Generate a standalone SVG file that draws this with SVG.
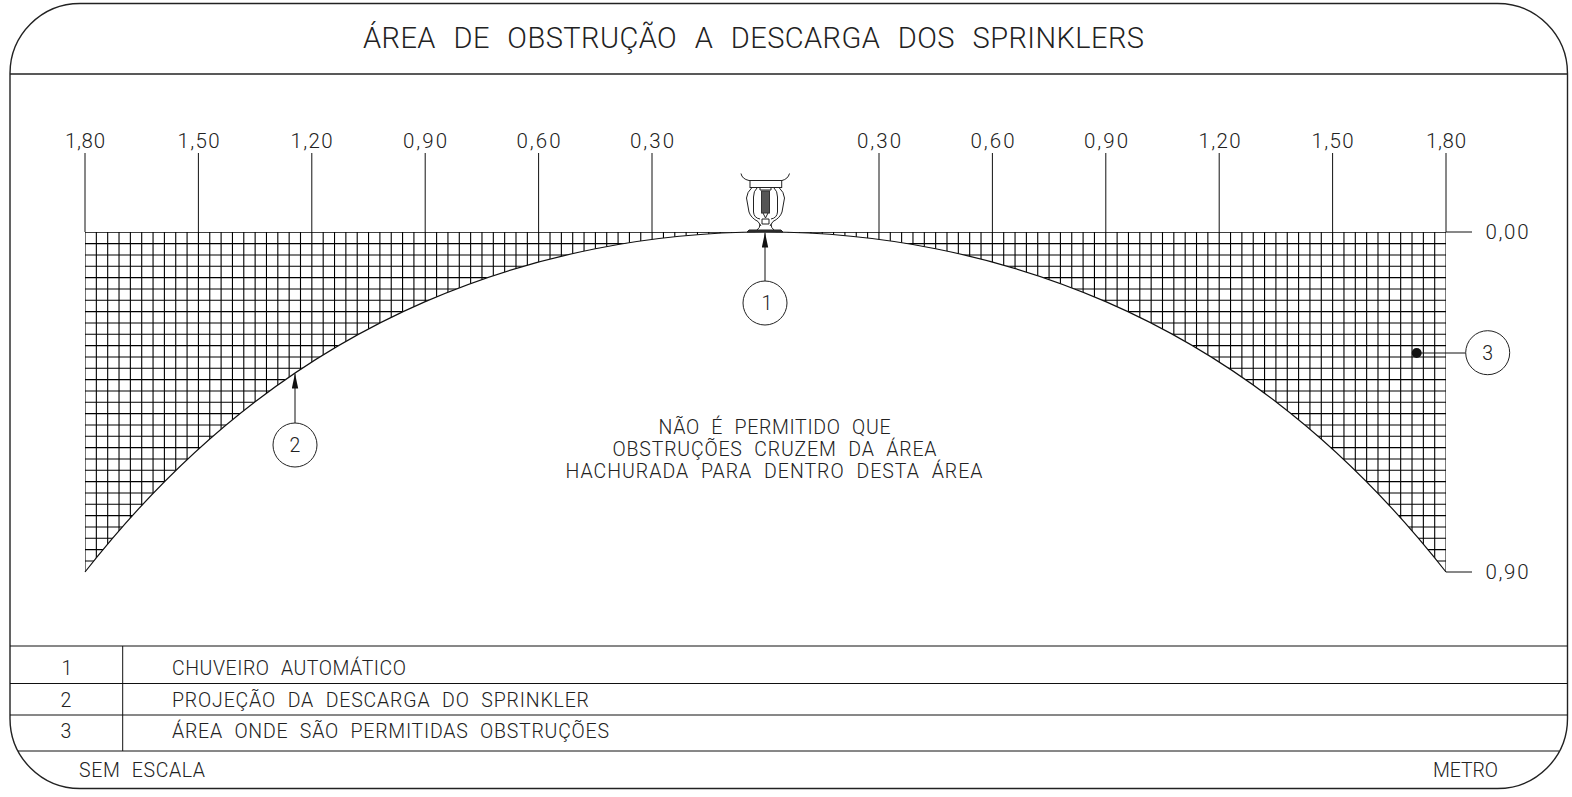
<svg xmlns="http://www.w3.org/2000/svg" width="1572" height="797" viewBox="0 0 1572 797">
<style>
text{font-family:"Roboto","Liberation Sans",sans-serif;font-weight:300;fill:#222}
.t{font-size:19.5px;word-spacing:6px}
.d{font-size:20.5px;text-anchor:middle}
.c{font-size:19.5px;text-anchor:middle}
.l{fill:none;stroke:#111;stroke-width:1}
.f{fill:none;stroke:#222;stroke-width:1.4}
.h{fill:none;stroke:#000;stroke-width:1.1}
.n{fill:#fff;stroke:#222;stroke-width:1}
</style>
<defs>
<clipPath id="hc"><path d="M85 232H1446V572C1389.29 499.75 1332.58 445.08 1275.875 401.7C1219.16 358.32 1162.46 326.18 1105.75 301.6C1049.04 277.02 992.33 259.99 935.625 248.72C878.92 237.45 822.21 232 765.5 232C708.79 232 652.08 237.45 595.375 248.72C538.67 259.99 481.96 277.02 425.25 301.6C368.54 326.18 311.84 358.32 255.125 401.7C198.42 445.08 141.71 499.75 85 572Z"/></clipPath>
<marker id="ah" markerUnits="userSpaceOnUse" markerWidth="15" markerHeight="7" refX="15" refY="0" orient="auto" viewBox="0 -3.5 15 7"><path d="M15 0L0 -3.2V3.2Z" fill="#111"/></marker>
</defs>
<g id="frame">
<rect class="f" x="10" y="3.5" width="1557.5" height="785" rx="70" ry="70"/>
<path class="f" d="M10 74H1567.5"/>
<path class="l" d="M10 646H1567.5M10 683.5H1567.5M10 715H1567.5M18 751H1559M122.7 646V751"/>
</g>
<text id="title" x="363" y="47.5" font-size="29" word-spacing="10" textLength="781" lengthAdjust="spacing" style="word-spacing:10px">ÁREA DE OBSTRUÇÃO A DESCARGA DOS SPRINKLERS</text>
<g id="hatch" clip-path="url(#hc)">
<path class="h" d="M85 232V572m11.342-340v340m11.342-340v340m11.342-340v340m11.342-340v340m11.342-340v340m11.342-340v340m11.342-340v340m11.342-340v340m11.342-340v340m11.342-340v340
m11.342-340v340m11.342-340v340m11.342-340v340m11.342-340v340m11.342-340v340m11.342-340v340m11.342-340v340m11.342-340v340m11.342-340v340m11.342-340v340
m11.342-340v340m11.342-340v340m11.342-340v340m11.342-340v340m11.342-340v340m11.342-340v340m11.342-340v340m11.342-340v340m11.342-340v340m11.342-340v340
m11.342-340v340m11.342-340v340m11.342-340v340m11.342-340v340m11.342-340v340m11.342-340v340m11.342-340v340m11.342-340v340m11.342-340v340m11.342-340v340
m11.342-340v340m11.342-340v340m11.342-340v340m11.342-340v340m11.342-340v340m11.342-340v340m11.342-340v340m11.342-340v340m11.342-340v340m11.342-340v340
m11.342-340v340m11.342-340v340m11.342-340v340m11.342-340v340m11.342-340v340m11.342-340v340m11.342-340v340m11.342-340v340m11.342-340v340m11.342-340v340
m11.342-340v340m11.342-340v340m11.342-340v340m11.342-340v340m11.342-340v340m11.342-340v340m11.342-340v340m11.342-340v340m11.342-340v340m11.342-340v340
m11.342-340v340m11.342-340v340m11.342-340v340m11.342-340v340m11.342-340v340m11.342-340v340m11.342-340v340m11.342-340v340m11.342-340v340m11.342-340v340
m11.342-340v340m11.342-340v340m11.342-340v340m11.342-340v340m11.342-340v340m11.342-340v340m11.342-340v340m11.342-340v340m11.342-340v340m11.342-340v340
m11.342-340v340m11.342-340v340m11.342-340v340m11.342-340v340m11.342-340v340m11.342-340v340m11.342-340v340m11.342-340v340m11.342-340v340m11.342-340v340
m11.342-340v340m11.342-340v340m11.342-340v340m11.342-340v340m11.342-340v340m11.342-340v340m11.342-340v340m11.342-340v340m11.342-340v340m11.342-340v340
m11.342-340v340m11.342-340v340m11.342-340v340m11.342-340v340m11.342-340v340m11.342-340v340m11.342-340v340m11.342-340v340m11.342-340v340m11.342-340v340"/>
<path class="h" d="M85 232.3h1361m-1361 11.333h1361m-1361 11.333h1361m-1361 11.333h1361m-1361 11.333h1361m-1361 11.333h1361m-1361 11.333h1361m-1361 11.333h1361m-1361 11.333h1361m-1361 11.333h1361m-1361 11.333h1361
m-1361 11.333h1361m-1361 11.333h1361m-1361 11.333h1361m-1361 11.333h1361m-1361 11.333h1361m-1361 11.333h1361m-1361 11.333h1361m-1361 11.333h1361m-1361 11.333h1361m-1361 11.333h1361
m-1361 11.333h1361m-1361 11.333h1361m-1361 11.333h1361m-1361 11.333h1361m-1361 11.333h1361m-1361 11.333h1361m-1361 11.333h1361m-1361 11.333h1361m-1361 11.333h1361"/>
</g>
<g id="connectors">
<path fill="none" stroke="#111" stroke-width="1.2" d="M85 572C141.71 499.75 198.42 445.08 255.125 401.7C311.84 358.32 368.54 326.18 425.25 301.6C481.96 277.02 538.67 259.99 595.375 248.72C652.08 237.45 708.79 232 765.5 232C822.21 232 878.92 237.45 935.625 248.72C992.33 259.99 1049.04 277.02 1105.75 301.6C1162.46 326.18 1219.16 358.32 1275.875 401.7C1332.58 445.08 1389.29 499.75 1446 572"/>
<path class="l" d="M85 153V232M198.4 153V232M311.8 153V232M425.2 153V232M538.6 153V232M652 153V232M879 153V232M992.4 153V232M1105.8 153V232M1219.2 153V232M1332.6 153V232M1446 153V232"/>
<path class="l" d="M1446 232H1472M1446 572H1472"/>
<path class="l" d="M765 281V232.5" marker-end="url(#ah)"/>
<path class="l" d="M295 423V373.5" marker-end="url(#ah)"/>
<path class="l" d="M1465.7 353H1417"/>
<circle cx="1416.7" cy="353" r="5" fill="#111"/>
</g>
<g id="dims">
<text class="d" x="85" y="148" textLength="40">1,80</text>
<text class="d" x="198.5" y="148" textLength="42">1,50</text>
<text class="d" x="311.5" y="148" textLength="42">1,20</text>
<text class="d" x="425" y="148" textLength="44">0,90</text>
<text class="d" x="538.5" y="148" textLength="44">0,60</text>
<text class="d" x="652" y="148" textLength="44">0,30</text>
<text class="d" x="879" y="148" textLength="44">0,30</text>
<text class="d" x="992.5" y="148" textLength="44">0,60</text>
<text class="d" x="1106" y="148" textLength="44">0,90</text>
<text class="d" x="1219.5" y="148" textLength="42">1,20</text>
<text class="d" x="1332.5" y="148" textLength="42">1,50</text>
<text class="d" x="1446" y="148" textLength="40">1,80</text>
<text class="d" x="1507" y="239" textLength="43">0,00</text>
<text class="d" x="1507" y="579" textLength="43">0,90</text>
</g>
<g id="sprinkler" fill="none" stroke="#222" stroke-width="1">
<path d="M741 173.5Q742 179 749 180.5H782Q788 179 789.5 173.5"/>
<rect x="750" y="180.5" width="31.7" height="7" fill="#fff"/>
<path d="M752 187.5Q747 192 746.5 198L749 212Q751 218 758 221.5L761 226M779 187.5Q784 192 784.5 198L782 212Q780 218 773 221.5L770 226"/>
<path d="M757 188Q753.5 191 753.5 197V212Q754 218 760 219M774 188Q777.5 191 777.5 197V212Q777 218 771 219"/>
<path d="M760 187.5V190H771V187.5M762 219H769V224H762ZM760 224Q760 228 757 230M771 224Q771 228 774 230"/>
<rect x="761.5" y="191" width="8" height="22" fill="#555" stroke="#333"/>
<path d="M763 213L765.5 218L768 213"/>
<path d="M747 232L749 230H781L783 232Z" fill="#333"/>
</g>
<g id="node-1"><circle class="n" cx="765" cy="303" r="22"/><text class="c" x="767" y="310">1</text></g>
<g id="node-2"><circle class="n" cx="295" cy="445" r="22"/><text class="c" x="295" y="452">2</text></g>
<g id="node-3"><circle class="n" cx="1487.7" cy="352.7" r="22"/><text class="c" x="1487.7" y="360">3</text></g>
<g id="note">
<text class="t" x="658.5" y="434" textLength="232">NÃO É PERMITIDO QUE</text>
<text class="t" x="612.5" y="456" textLength="324">OBSTRUÇÕES CRUZEM DA ÁREA</text>
<text class="t" x="565.5" y="478" textLength="417">HACHURADA PARA DENTRO DESTA ÁREA</text>
</g>
<g id="table">
<text class="c" x="67" y="675">1</text>
<text class="c" x="66" y="707">2</text>
<text class="c" x="66" y="738">3</text>
<text class="t" x="172" y="675" textLength="234">CHUVEIRO AUTOMÁTICO</text>
<text class="t" x="172" y="707" textLength="417">PROJEÇÃO DA DESCARGA DO SPRINKLER</text>
<text class="t" x="172" y="738" textLength="437">ÁREA ONDE SÃO PERMITIDAS OBSTRUÇÕES</text>
<text class="t" x="79" y="777" textLength="126">SEM ESCALA</text>
<text class="t" x="1433" y="777" textLength="65">METRO</text>
</g>
</svg>
